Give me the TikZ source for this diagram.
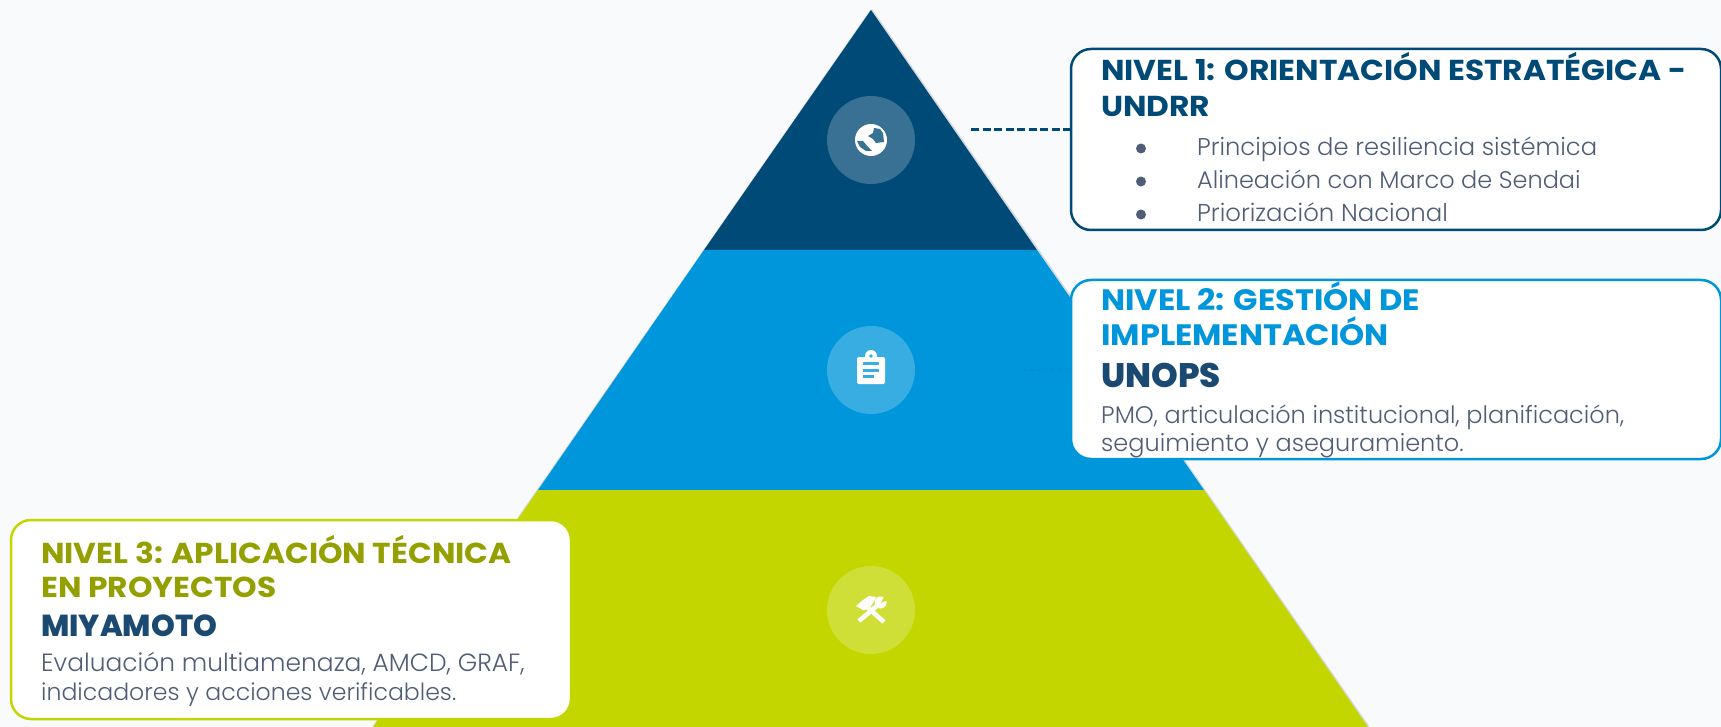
\documentclass[tikz,border=0pt]{standalone}
\usepackage{fontspec}
\setmainfont{Poppins}[FakeStretch=1.085]
\newfontfamily\orgfont{Poppins ExtraBold}
\newfontfamily\bodyfont{Poppins Light}
\usetikzlibrary{positioning}
\definecolor{pagebg}{HTML}{F8FAFC}
\definecolor{navy}{HTML}{004A77}
\definecolor{sky}{HTML}{0096DB}
\definecolor{lime}{HTML}{C4D600}
\definecolor{olive}{HTML}{949F00}
\definecolor{inkblue}{HTML}{1A4971}
\definecolor{slate}{HTML}{4F5D75}
\definecolor{edgegrey}{HTML}{D5D9DE}

\begin{document}
\begin{tikzpicture}[x=1pt, y=-1pt]
            \tikzstyle{badge} = [circle, minimum size=88pt, inner sep=0, fill=white, fill opacity=0.22]
            \tikzstyle{panel} = [rectangle, rounded corners=20pt, line width=2.5pt, fill=white, inner sep=0]
            \tikzstyle{head} = [anchor=base west, inner sep=0, font=\fontsize{28.8}{30}\selectfont\bfseries]
            \tikzstyle{org} = [anchor=base west, inner sep=0, font=\fontsize{30.3}{31}\orgfont, text=inkblue]
            \tikzstyle{body} = [anchor=base west, inner sep=0, font=\fontsize{24}{25}\bodyfont, text=slate]
            \tikzstyle{dot} = [circle, inner sep=0, minimum size=10pt, fill=slate]
            \tikzstyle{link} = [line width=3pt, dash pattern=on 8pt off 3.5pt]

            \useasboundingbox[fill=pagebg] (0, 0) rectangle (1721, 727);

            % pyramid
            \draw[edgegrey, line width=3pt] (871, 10) -- (1368, 727);
            \draw[edgegrey, line width=1.5pt] (871, 10) -- (373, 727);
            \fill[navy] (871, 10) -- (1037, 250) -- (704, 250) -- cycle;
            \fill[sky] (704, 250) -- (1037, 250) -- (1204, 490) -- (538, 490) -- cycle;
            \fill[lime] (538, 490) -- (1204, 490) -- (1368, 727) -- (373, 727) -- cycle;

            \node[badge] (globe) at (871, 140) {};
            \node[badge] (clip) at (871, 370) {};
            \node[badge] (tools) at (871, 610) {};

            % globe icon
            \fill[white] (globe) circle (16);
            \fill[navy!78!white] (874, 128) -- (880, 129) -- (883, 133) -- (884, 142) -- (876, 143)
                -- (873, 139) -- (868, 136) -- (873, 133) -- cycle;
            \fill[navy!78!white] (857, 141) -- (863, 141) -- (868, 147) -- (872, 151) -- (866, 151) -- (860, 147) -- cycle;
            % clipboard icon
            \fill[white, rounded corners=2pt] (857, 357) rectangle (885, 384);
            \fill[white] (871, 356) circle (6);
            \fill[sky!78!white] (871, 356) circle (1.8);
            \fill[sky!78!white] (863, 362) rectangle (879, 365);
            \fill[sky!78!white] (863, 369) rectangle (879, 372);
            \fill[sky!78!white] (863, 375) rectangle (874, 378);
            % tools icon
            \draw[white, line width=4.5pt] (859, 621) -- (878, 605);
            \draw[white, line width=4.5pt] (866, 606) -- (884, 622);
            \fill[white] (856, 606) -- (863, 600) -- (869, 596) -- (876, 597) -- (873, 603) -- (869, 609) -- (863, 610) -- cycle;
            \fill[white] (880.5, 602.5) circle (6);
            \fill[lime!78!white] (881, 602.5) -- (885, 595) -- (889, 600) -- cycle;

            % panels
            \node[panel, draw=navy, minimum width=650pt, minimum height=181pt] (lvlone) at (1396, 139.5) {};
            \node[panel, draw=sky, minimum width=650pt, minimum height=179pt] (lvltwo) at (1396, 369.5) {};
            \node[panel, draw=lime, minimum width=560pt, minimum height=199pt] (lvlthree) at (291, 619.5) {};

            \coordinate (lvlonetail) at (971, 130);
            \coordinate (lvltwotail) at (1023, 370);
            \draw[link, navy] (lvlonetail) -- (lvlone.west |- lvlonetail);
            \draw[sky!94!navy, line width=2pt, dash pattern=on 3pt off 4pt] (lvltwotail) -- (lvltwo.west |- lvltwotail);

            \node[head, text=navy] (onea) at (1101, 81) {NIVEL 1: ORIENTACIÓN ESTRATÉGICA -};
            \node[head, text=navy] (oneb) at (1101, 117) {UNDRR};
            \node[dot] (dota) at (1141, 148.5) {};
            \node[dot] (dotb) at (1141, 181.5) {};
            \node[dot] (dotc) at (1141, 214.5) {};
            \node[body, font=\fontsize{24.2}{25}\bodyfont] (linea) at (1197, 156) {Principios de resiliencia sistémica};
            \node[body] (lineb) at (1197, 189) {Alineación con Marco de Sendai};
            \node[body, font=\fontsize{24.4}{25}\bodyfont] (linec) at (1197, 222) {Priorización Nacional};

            \node[head, text=sky, font=\fontsize{29.5}{30}\selectfont\bfseries] (twoa) at (1101, 310) {NIVEL 2: GESTIÓN DE};
            \node[head, text=sky, font=\fontsize{29.5}{30}\selectfont\bfseries] (twob) at (1101, 345) {IMPLEMENTACIÓN};
            \node[org, font=\fontsize{34}{34}\orgfont] (unops) at (1101, 387) {UNOPS};
            \node[body] (twoc) at (1101, 423) {PMO, articulación institucional, planificación,};
            \node[body] (twod) at (1101, 451) {seguimiento y aseguramiento.};

            \node[head, text=olive] (threea) at (41, 563) {NIVEL 3: APLICACIÓN TÉCNICA};
            \node[head, text=olive] (threeb) at (41, 597) {EN PROYECTOS};
            \node[org] (miyamoto) at (41, 636) {MIYAMOTO};
            \node[body, font=\fontsize{24.9}{25}\bodyfont] (threec) at (41, 671) {Evaluación multiamenaza, AMCD, GRAF,};
            \node[body, font=\fontsize{23.6}{25}\bodyfont] (threed) at (41, 700) {indicadores y acciones verificables.};
        \end{tikzpicture}
\end{document}
